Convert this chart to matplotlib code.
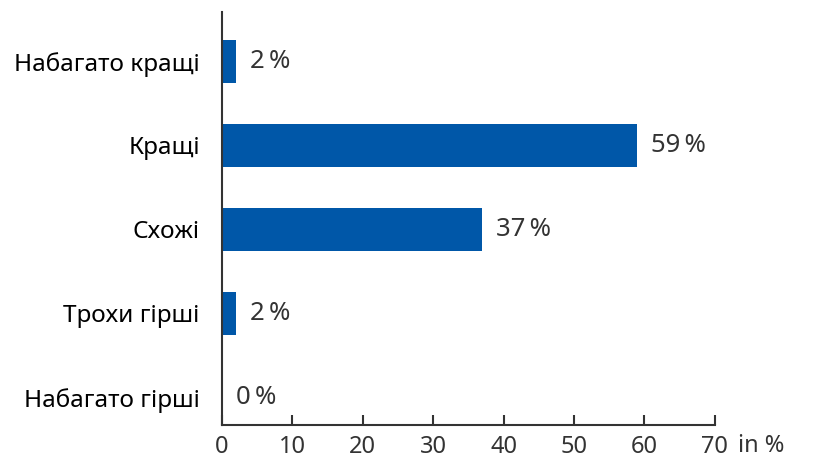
import matplotlib
matplotlib.use("Agg")
import matplotlib.pyplot as plt

categories = ["Набагато кращі", "Кращі", "Схожі", "Трохи гірші", "Набагато гірші"]
values = [2, 59, 37, 2, 0]
xticks = [0, 10, 20, 30, 40, 50, 60, 70]

plt.rcParams['font.family'] = ['Noto Sans', 'DejaVu Sans']
txt = '#333333'

fig = plt.figure(figsize=(8.14, 4.61), dpi=100)
ax = fig.add_axes([0.2727, 0.078, 0.878 - 0.2727, 0.974 - 0.078])

pos = list(range(len(categories)))
ax.barh(pos, values, height=0.51, color='#0057A8', edgecolor='none')
for p, v in zip(pos, values):
    ax.annotate(f"{v}\u2009%", xy=(v, p), xytext=(10, 0), textcoords='offset points',
                va='center', ha='left', fontsize=18.5, color=txt)

ax.set_ylim(4.33, -0.59)
ax.set_xlim(0, 70)
ax.set_xticks(xticks)
ax.set_xticklabels([str(t) for t in xticks], fontsize=17, color=txt)
ax.set_yticks(pos)
ax.set_yticklabels(categories, fontsize=17.5, color='black')
ax.tick_params(axis='y', length=0, pad=16)
ax.tick_params(axis='x', direction='in', length=7, width=1.5, color=txt, pad=7)
for s in ['top', 'right']:
    ax.spines[s].set_visible(False)
for s in ['left', 'bottom']:
    ax.spines[s].set_linewidth(1.5)
    ax.spines[s].set_color(txt)

fig.text(738 / 814, 1 - 446 / 461, "in %", fontsize=17, color=txt, va='center', ha='left')

fig.savefig("out.png", dpi=100)
